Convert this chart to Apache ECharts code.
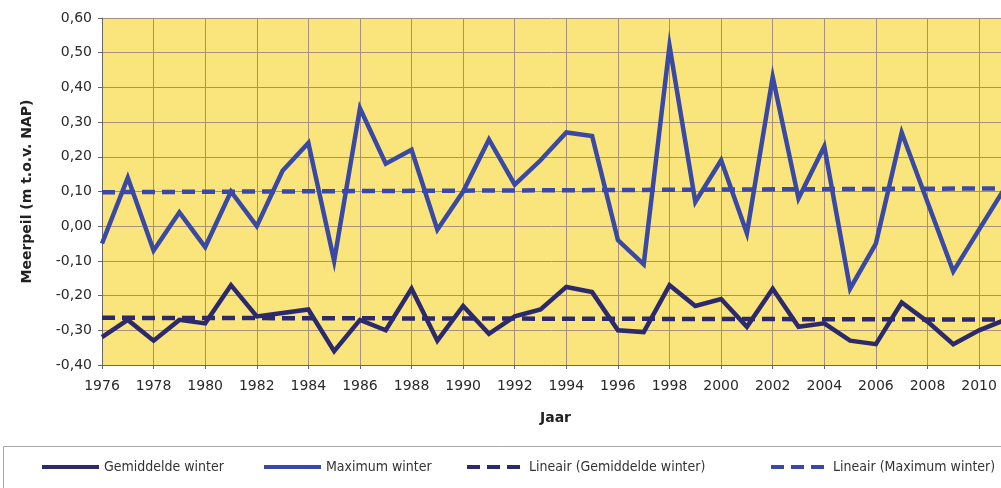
<!DOCTYPE html>
<html>
<head>
<meta charset="utf-8">
<script src="https://cdn.jsdelivr.net/npm/echarts@6/dist/echarts.min.js"></script>
<style>
html,body{margin:0;padding:0;background:#fff;}
#c{width:1001px;height:488px;}
</style>
</head>
<body>
<div id="c"></div>
<script>
// Data
const years = [1976,1977,1978,1979,1980,1981,1982,1983,1984,1985,1986,1987,1988,1989,1990,1991,1992,1993,1994,1995,1996,1997,1998,1999,2000,2001,2002,2003,2004,2005,2006,2007,2008,2009,2010,2011];
const gemiddeldeWinter = [-0.32,-0.27,-0.33,-0.27,-0.28,-0.17,-0.26,-0.25,-0.24,-0.36,-0.27,-0.30,-0.18,-0.33,-0.23,-0.31,-0.26,-0.24,-0.175,-0.19,-0.30,-0.305,-0.17,-0.23,-0.21,-0.29,-0.18,-0.29,-0.28,-0.33,-0.34,-0.22,-0.275,-0.34,-0.30,-0.27];
const maximumWinter = [-0.05,0.14,-0.07,0.04,-0.06,0.10,0.00,0.16,0.24,-0.10,0.34,0.18,0.22,-0.01,0.10,0.25,0.12,0.19,0.27,0.26,-0.04,-0.11,0.52,0.07,0.19,-0.02,0.43,0.08,0.23,-0.18,-0.05,0.27,0.07,-0.13,-0.01,0.11];
const trendYears = [1976, 2011];
const trendGemiddelde = [-0.264, -0.269];
const trendMaximum = [0.098, 0.109];
const seriesNames = ['Gemiddelde winter','Maximum winter','Lineair (Gemiddelde winter)','Lineair (Maximum winter)'];

const pair = (xs, ys) => xs.map((x, i) => [x, ys[i]]);

const cDark = '#2c2a6c';
const cBlue = '#3a49a3';
const cDash2 = '#3a48ab';

const chart = echarts.init(document.getElementById('c'), null, {renderer: 'canvas'});
const legendFont = {fontFamily: '"DejaVu Sans Condensed", "DejaVu Sans", sans-serif', fontSize: 14, color: '#333'};
function lg(name, left) {
  return {data: [name], left: left, top: 460, itemWidth: 57, itemHeight: 14, itemGap: 0,
    textStyle: legendFont, padding: 0, selectedMode: false,
    itemStyle: {opacity: 0}, lineStyle: {width: 4}};
}
chart.setOption({
  animation: false,
  backgroundColor: '#ffffff',
  grid: {left: 102, right: -6, top: 18, bottom: 123, show: true, backgroundColor: '#f9e57c', borderWidth: 0},
  graphic: [{type: 'rect', shape: {x: 3.5, y: 446.5, width: 1100, height: 100}, style: {fill: 'none', stroke: '#a8a8a8', lineWidth: 1}, silent: true}],
  legend: [lg(seriesNames[0], 40), lg(seriesNames[1], 262), lg(seriesNames[2], 465), lg(seriesNames[3], 769)],
  xAxis: {
    type: 'value', min: 1976, max: 2010.85, interval: 2,
    name: 'Jaar', nameLocation: 'middle', nameGap: 46,
    nameTextStyle: {fontFamily: '"DejaVu Sans", sans-serif', fontWeight: 'bold', fontSize: 14, color: '#222', padding: [0, 0, 0, 8]},
    axisLine: {show: true, onZero: false, lineStyle: {color: '#666', width: 1}},
    axisTick: {show: true, length: 4, lineStyle: {color: '#666'}},
    axisLabel: {margin: 14, showMaxLabel: false, fontFamily: '"DejaVu Sans", sans-serif', fontSize: 14, color: '#2a2a2a',
      formatter: v => (Math.abs(v - Math.round(v)) < 1e-6 && Math.round(v) % 2 === 0) ? String(Math.round(v)) : ''},
    splitLine: {show: true, lineStyle: {color: '#a8907c', width: 1}}
  },
  yAxis: {
    type: 'value', min: -0.4, max: 0.6, interval: 0.1,
    name: 'Meerpeil (m t.o.v. NAP)', nameLocation: 'middle', nameGap: 68,
    nameTextStyle: {fontFamily: '"DejaVu Sans", sans-serif', fontWeight: 'bold', fontSize: 14, color: '#222'},
    axisLine: {show: true, onZero: false, lineStyle: {color: '#666', width: 1}},
    axisTick: {show: true, length: 4, lineStyle: {color: '#666'}},
    axisLabel: {margin: 10, fontFamily: '"DejaVu Sans", sans-serif', fontSize: 14, color: '#2a2a2a',
      formatter: v => (Math.round(v * 100) / 100).toFixed(2).replace('.', ',').replace('-0,00', '0,00')},
    splitLine: {show: true, lineStyle: {color: '#a8907c', width: 1}}
  },
  series: [
    {name: seriesNames[0], type: 'line', data: pair(years, gemiddeldeWinter), symbol: 'none', clip: true,
      lineStyle: {color: cDark, width: 4.5, join: 'miter'}, itemStyle: {color: cDark}},
    {name: seriesNames[1], type: 'line', data: pair(years, maximumWinter), symbol: 'none', clip: true,
      lineStyle: {color: cBlue, width: 4.5, join: 'miter'}, itemStyle: {color: cBlue}},
    {name: seriesNames[2], type: 'line', data: pair(trendYears, trendGemiddelde), symbol: 'none', clip: true,
      lineStyle: {color: cDark, width: 4.5, type: [13, 7]}, itemStyle: {color: cDark}},
    {name: seriesNames[3], type: 'line', data: pair(trendYears, trendMaximum), symbol: 'none', clip: true,
      lineStyle: {color: cDash2, width: 4.5, type: [13, 7]}, itemStyle: {color: cDash2}}
  ]
});
</script>
</body>
</html>
